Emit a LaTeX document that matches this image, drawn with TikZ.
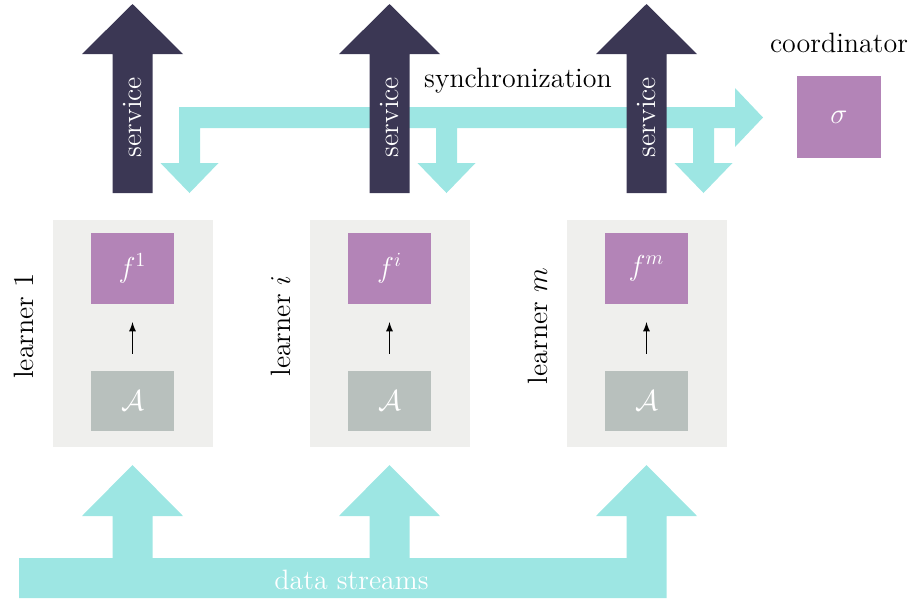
\documentclass[tikz,border=0pt]{standalone}
\usepackage{tikz}
\usepackage{xcolor}
\usetikzlibrary{arrows,positioning}

\definecolor{servicecol}{HTML}{3B3754}
\definecolor{synccol}{HTML}{9DE6E3}
\definecolor{modelcol}{HTML}{B384B7}
\definecolor{algcol}{HTML}{B8C0BD}
\definecolor{learnercol}{HTML}{EFEFED}

\begin{document}
\begin{tikzpicture}[x=0.5pt,y=-0.5pt,every node/.style={inner sep=0pt,font=\fontsize{14}{17}\selectfont},
  learnerbox/.style={rectangle,fill=learnercol,minimum width=80pt,minimum height=113.3pt},
  modelbox/.style={rectangle,fill=modelcol,text=white,minimum width=41.5pt,minimum height=35.5pt},
  algbox/.style={rectangle,fill=algcol,text=white,minimum width=41.5pt,minimum height=30pt},
  sidelabel/.style={rotate=90,anchor=base},
  servicelabel/.style={rotate=90,anchor=base,text=white}]
\useasboundingbox (0,0) rectangle (912,602);
% learners
\node (l1) at (132.5,333.3) [learnerbox]{};
\node (li) at (389.5,333.3) [learnerbox]{};
\node (lm) at (646.5,333.3) [learnerbox]{};
\node (f1) at (132.5,268.2) [modelbox]{$f^1$};
\node (fi) at (389.5,268.2) [modelbox]{$f^i$};
\node (fm) at (646.5,268.2) [modelbox]{$f^m$};
\node (a1) at (132.5,401) [algbox]{$\mathcal{A}$};
\node (ai) at (389.5,401) [algbox]{$\mathcal{A}$};
\node (am) at (646.5,401) [algbox]{$\mathcal{A}$};
\draw[-latex,semithick,shorten <=8.5pt,shorten >=9pt] (a1) -- (f1);
\draw[-latex,semithick,shorten <=8.5pt,shorten >=9pt] (ai) -- (fi);
\draw[-latex,semithick,shorten <=8.5pt,shorten >=9pt] (am) -- (fm);
\node (t1) at (33,326) [sidelabel]{learner $1$};
\node (ti) at (290,326) [sidelabel]{learner $i$};
\node (tm) at (547,326) [sidelabel]{learner $m$};
% synchronization
\fill[synccol] (179,107) -- (735,107) -- (735,88) -- (763,117.5) -- (735,147) -- (735,128)
  -- (714,128) -- (714,163) -- (732.5,163) -- (703.5,193) -- (674.5,163) -- (693,163) -- (693,128)
  -- (457,128) -- (457,163) -- (475.5,163) -- (446.5,193) -- (417.5,163) -- (436,163) -- (436,128)
  -- (200,128) -- (200,163) -- (218.5,163) -- (189.5,193) -- (160.5,163) -- (179,163) -- cycle;
\node (sync) at (518,87) [anchor=base]{synchronization};
% service
\fill[servicecol] (112.5,193) -- (152.5,193) -- (152.5,54) -- (183,54) -- (132.5,4) -- (82,54) -- (112.5,54) -- cycle;
\fill[servicecol] (369.5,193) -- (409.5,193) -- (409.5,54) -- (440,54) -- (389.5,4) -- (339,54) -- (369.5,54) -- cycle;
\fill[servicecol] (626.5,193) -- (666.5,193) -- (666.5,54) -- (697,54) -- (646.5,4) -- (596,54) -- (626.5,54) -- cycle;
\node (s1) at (141,117) [servicelabel]{service};
\node (si) at (398,117) [servicelabel]{service};
\node (sm) at (655,117) [servicelabel]{service};
% coordinator
\node (coord) at (839,117) [rectangle,fill=modelcol,text=white,minimum width=42pt,minimum height=41pt]{$\sigma$};
\node (coordlabel) at (839,52) [anchor=base]{coordinator};
% data streams
\fill[synccol] (19,598) -- (666.5,598) -- (666.5,516) -- (697,516) -- (646.5,465) -- (596,516) -- (626.5,516)
  -- (626.5,558) -- (409.5,558) -- (409.5,516) -- (440,516) -- (389.5,465) -- (339,516) -- (369.5,516)
  -- (369.5,558) -- (152.5,558) -- (152.5,516) -- (183,516) -- (132.5,465) -- (82,516) -- (112.5,516)
  -- (112.5,558) -- (19,558) -- cycle;
\node (data) at (351.5,589) [anchor=base,text=white]{data streams};
\end{tikzpicture}
\end{document}
